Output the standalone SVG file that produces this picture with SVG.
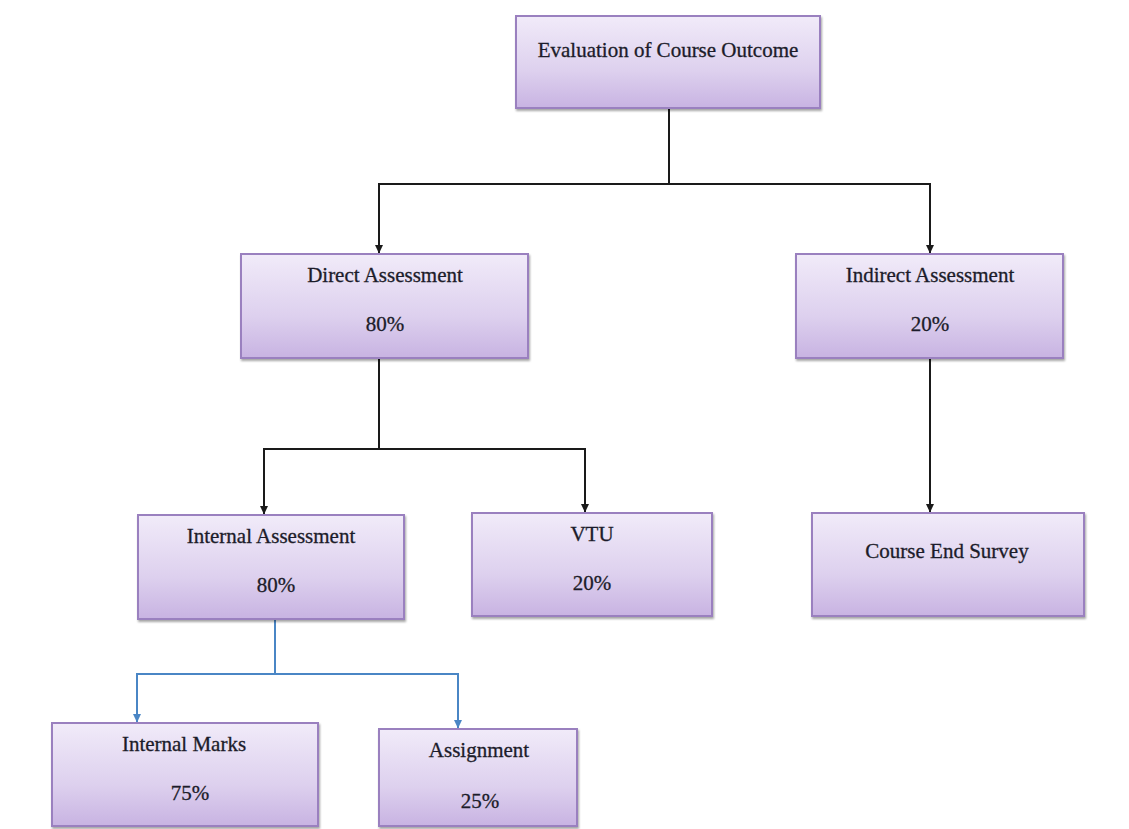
<svg xmlns="http://www.w3.org/2000/svg" width="1129" height="829" viewBox="0 0 1129 829">
<defs>
<linearGradient id="g" x1="0" y1="0" x2="0" y2="1">
<stop offset="0" stop-color="#f1ebf9"/>
<stop offset="0.6" stop-color="#ddd0ee"/>
<stop offset="1" stop-color="#c8b3e2"/>
</linearGradient>
<filter id="sh" x="-5%" y="-5%" width="112%" height="115%">
<feDropShadow dx="1" dy="2" stdDeviation="1.2" flood-color="#000" flood-opacity="0.35"/>
</filter>
<marker id="ak" markerWidth="9" markerHeight="9" refX="8" refY="4.5" orient="auto" markerUnits="userSpaceOnUse" viewBox="0 0 9 9">
<path d="M0,0.5 L8.5,4.5 L0,8.5 Z" fill="#1a1a1a"/>
</marker>
<marker id="ab" markerWidth="9" markerHeight="9" refX="8" refY="4.5" orient="auto" markerUnits="userSpaceOnUse" viewBox="0 0 9 9">
<path d="M0,0.5 L8.5,4.5 L0,8.5 Z" fill="#4a86c5"/>
</marker>
</defs>
<style>
.box{fill:url(#g);stroke:#9a80bf;stroke-width:2;filter:url(#sh)}
.t{font-family:'Liberation Serif','DejaVu Serif',serif;font-size:21px;fill:#1c1c2a;stroke:#1c1c2a;stroke-width:0.3;text-anchor:middle}
.k{fill:none;stroke:#1a1a1a;stroke-width:2}
.b{fill:none;stroke:#4a86c5;stroke-width:2}
</style>
<rect width="1129" height="829" fill="#ffffff"/>
<g id="connectors">
<path class="k" d="M669,108 V184 H379 V253" marker-end="url(#ak)"/>
<path class="k" d="M669,184 H930 V253" marker-end="url(#ak)"/>
<path class="k" d="M379,358 V449 H264 V514" marker-end="url(#ak)"/>
<path class="k" d="M379,449 H585 V512" marker-end="url(#ak)"/>
<path class="k" d="M930,358 V512" marker-end="url(#ak)"/>
<path class="b" d="M275,619 V674 H137 V722" marker-end="url(#ab)"/>
<path class="b" d="M275,674 H458 V728" marker-end="url(#ab)"/>
</g>
<g id="evaluation">
<rect class="box" x="516" y="16" width="304" height="92"/>
<text class="t" x="668" y="57">Evaluation of Course Outcome</text>
</g>
<g id="direct">
<rect class="box" x="241" y="254" width="287" height="104"/>
<text class="t" x="385" y="282">Direct Assessment</text>
<text class="t" x="385" y="331">80%</text>
</g>
<g id="indirect">
<rect class="box" x="796" y="254" width="267" height="104"/>
<text class="t" x="930" y="282">Indirect Assessment</text>
<text class="t" x="930" y="331">20%</text>
</g>
<g id="internal-assessment">
<rect class="box" x="138" y="515" width="266" height="104"/>
<text class="t" x="271" y="543">Internal Assessment</text>
<text class="t" x="276" y="592">80%</text>
</g>
<g id="vtu">
<rect class="box" x="472" y="513" width="240" height="103"/>
<text class="t" x="592" y="541">VTU</text>
<text class="t" x="592" y="590">20%</text>
</g>
<g id="course-end-survey">
<rect class="box" x="812" y="513" width="272" height="103"/>
<text class="t" x="947" y="558">Course End Survey</text>
</g>
<g id="internal-marks">
<rect class="box" x="52" y="723" width="266" height="103"/>
<text class="t" x="184" y="751">Internal Marks</text>
<text class="t" x="190" y="800">75%</text>
</g>
<g id="assignment">
<rect class="box" x="379" y="729" width="198" height="97"/>
<text class="t" x="479" y="757">Assignment</text>
<text class="t" x="480" y="808">25%</text>
</g>
</svg>
